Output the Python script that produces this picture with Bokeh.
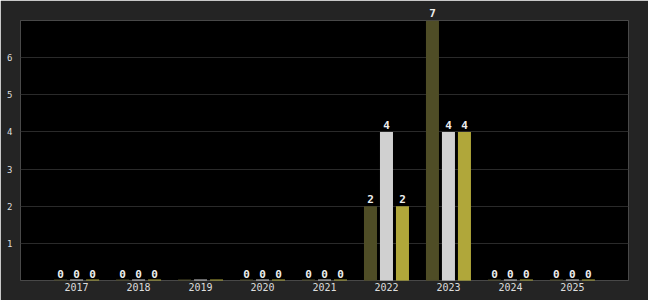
from bokeh.plotting import figure
from bokeh.models import Range1d, ColumnDataSource, Label, FixedTicker, LinearAxis
from bokeh.embed import file_html
from bokeh.resources import INLINE

years = ["2017", "2018", "2019", "2020", "2021", "2022", "2023", "2024", "2025"]
series_a = [0, 0, 0, 0, 0, 2, 7, 0, 0]
series_b = [0, 0, 0, 0, 0, 4, 4, 0, 0]
series_c = [0, 0, 0, 0, 0, 2, 4, 0, 0]
show_labels = [True, True, False, True, True, True, True, True, True]
colors = ["#4f4d26", "#d0d0d0", "#b0a73a"]
y_ticks = [1, 2, 3, 4, 5, 6]
y_max = 7

p = figure(frame_width=608, frame_height=260, output_backend="svg", toolbar_location=None,
           x_range=Range1d(-0.905, 8.905), y_range=Range1d(0, y_max))
p.background_fill_color = "#000000"
p.border_fill_color = "#242424"
p.outline_line_color = None
p.min_border_left = 20
p.min_border_right = 20
p.min_border_top = 20
p.min_border_bottom = 20

xs = list(range(len(years)))

p.xgrid.grid_line_color = None
p.ygrid.grid_line_color = "#2a2a2a"
p.ygrid.ticker = FixedTicker(ticks=y_ticks)

bottom_axis = p.below[0]
bottom_axis.ticker = FixedTicker(ticks=xs)
bottom_axis.major_label_overrides = {i: y for i, y in enumerate(years)}
bottom_axis.axis_line_color = None
bottom_axis.major_tick_line_color = None
bottom_axis.minor_tick_line_color = None
bottom_axis.major_tick_out = 0
bottom_axis.major_label_text_color = "#dddddd"
bottom_axis.major_label_text_font = "DejaVu Sans Mono"
bottom_axis.major_label_text_font_size = "10px"
bottom_axis.major_label_standoff = 2

p.yaxis.ticker = FixedTicker(ticks=y_ticks)
p.yaxis.axis_line_color = None
p.yaxis.major_tick_line_color = None
p.yaxis.minor_tick_line_color = None
p.yaxis.major_tick_out = 0
p.yaxis.major_label_text_color = "#dddddd"
p.yaxis.major_label_text_font = "DejaVu Sans Mono"
p.yaxis.major_label_text_font_size = "9px"
p.yaxis.major_label_standoff = 8

bar_w = 0.21
offsets = [-0.258, 0.0, 0.258]
top_ticks = []
top_labels = {}
for vals, col, off in zip([series_a, series_b, series_c], colors, offsets):
    xpos = [x + off for x in xs]
    src = ColumnDataSource(dict(x=xpos, top=vals))
    p.vbar(x="x", top="top", bottom=0, width=bar_w, source=src,
           fill_color=col, line_color=None)
    p.segment(x0=[x - bar_w / 2 for x in xpos], x1=[x + bar_w / 2 for x in xpos],
              y0=[0] * len(xpos), y1=[0] * len(xpos), line_color=col, line_width=2)
    for x, v, s in zip(xpos, vals, show_labels):
        if not s:
            continue
        if v >= y_max:
            top_ticks.append(x)
            top_labels[x] = str(v)
        else:
            p.add_layout(Label(x=x, y=v, text=str(v), text_align="center",
                               text_baseline="bottom", y_offset=3, text_color="#eeeeee",
                               text_font="DejaVu Sans Mono", text_font_size="11px",
                               text_font_style="bold"))

top_axis = LinearAxis(ticker=FixedTicker(ticks=top_ticks),
                      major_label_overrides=top_labels)
top_axis.axis_line_color = None
top_axis.major_tick_line_color = None
top_axis.minor_tick_line_color = None
top_axis.major_tick_out = 0
top_axis.major_tick_in = 0
top_axis.major_label_text_color = "#eeeeee"
top_axis.major_label_text_font = "DejaVu Sans Mono"
top_axis.major_label_text_font_size = "11px"
top_axis.major_label_text_font_style = "bold"
top_axis.major_label_standoff = 4
p.add_layout(top_axis, "above")

open("out.html", "w").write(file_html(p, INLINE))
